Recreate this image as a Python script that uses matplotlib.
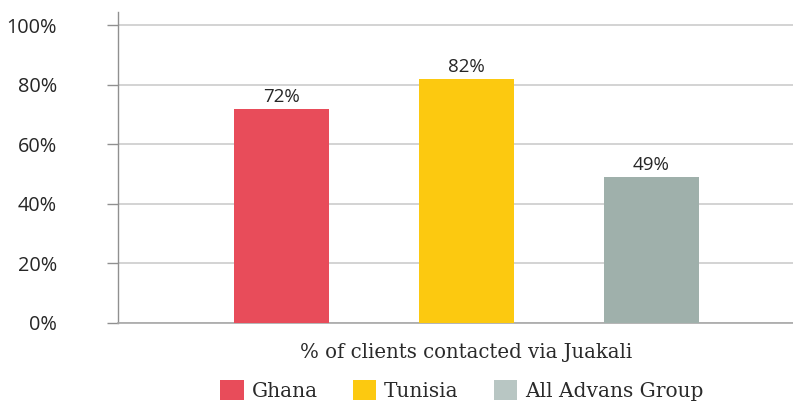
import matplotlib
matplotlib.use("Agg")
import matplotlib.pyplot as plt
from matplotlib.patches import Patch

groups = ["Ghana", "Tunisia", "All Advans Group"]
values = [72, 82, 49]
value_labels = ["72%", "82%", "49%"]
bar_colors = ["#e84c5a", "#fcc910", "#9fb0ab"]
legend_colors = ["#e84c5a", "#fcc910", "#b8c6c3"]
y_ticks = [0, 20, 40, 60, 80, 100]
y_tick_labels = ["0%", "20%", "40%", "60%", "80%", "100%"]
x_title = "% of clients contacted via Juakali"

fig = plt.figure(figsize=(7.93, 4.03), dpi=100)
ax = fig.add_axes([118 / 793, 1 - 323 / 403, 1 - 118 / 793, (323 - 12) / 403])

positions = list(range(len(groups)))
ax.bar(positions, values, width=95 / 185, color=bar_colors, zorder=3)
for x, v, lab in zip(positions, values, value_labels):
    ax.text(x, v + 1.0, lab, ha="center", va="bottom", fontsize=13.5,
            family="Open Sans", color="#262626", zorder=4)

ax.set_xlim(-(281.5 - 118) / 185, (793 - 281.5) / 185)
ax.set_ylim(0, 104.4)
ax.set_yticks(y_ticks)
ax.set_yticklabels(y_tick_labels, family="Open Sans", fontsize=14.3, color="#262626")
ax.set_xticks([])
ax.yaxis.grid(True, color="#c8c8c8", linewidth=1.1, zorder=0)
ax.tick_params(axis="y", length=8, width=1, color="#909090", pad=36)
for side in ["top", "right"]:
    ax.spines[side].set_visible(False)
ax.spines["left"].set_color("#909090")
ax.spines["bottom"].set_color("#a8a8a8")
ax.spines["left"].set_linewidth(1)
ax.spines["bottom"].set_linewidth(1.2)

# Axis title sits under the middle bar
ax.set_xlabel(x_title, family="DejaVu Serif", fontsize=14.2, color="#2a2a2a")
ax.xaxis.set_label_coords(positions[1], -0.064, transform=ax.get_xaxis_transform())
ax.xaxis.label.set_va("top")

handles = [Patch(facecolor=c, edgecolor="none") for c in legend_colors]
fig.legend(handles, groups, loc="lower center", bbox_to_anchor=(462 / 793, -0.04),
           ncol=3, frameon=False, prop={"family": "DejaVu Serif", "size": 14.5},
           handlelength=1.15, handleheight=1.15, handletextpad=0.4, columnspacing=1.75,
           labelcolor="#2a2a2a")

fig.savefig("out.png", dpi=100)
